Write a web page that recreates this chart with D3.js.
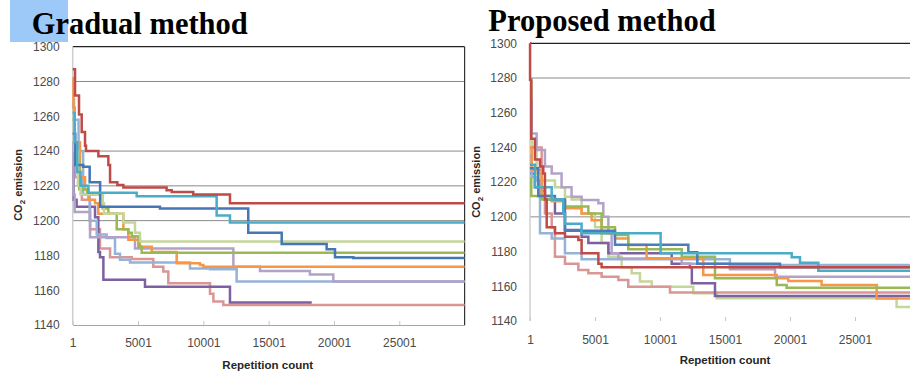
<!DOCTYPE html>
<html>
<head>
<meta charset="utf-8">
<script src="https://cdn.jsdelivr.net/npm/d3@7"></script>
<style>
  html, body { margin: 0; padding: 0; background: #fff; }
  svg { display: block; }
</style>
</head>
<body>
<svg id="chart" width="910" height="374"></svg>
<script>
// ── Data: [repetition, CO2 emission] best-so-far steps ─────────────────────

const yTicks = [1140, 1160, 1180, 1200, 1220, 1240, 1260, 1280, 1300];
const xTicks = [1, 5001, 10001, 15001, 20001, 25001];

// Gradual method
const gRed = [[1,1287],[180,1272],[485,1261],[690,1251],[945,1243],[1020,1240],[1965,1237],[2730,1232],[2860,1222],[3420,1220.5],[3880,1219],[7190,1217.5],[7580,1216.5],[9230,1215],[12040,1210],[30000,1210]];
const gTeal = [[1,1262],[150,1245],[350,1228],[600,1220],[1200,1216],[4900,1214],[11020,1203],[12040,1199],[30000,1199]];
const gBlue = [[1,1250],[200,1232],[800,1231],[1300,1222],[2100,1208],[6680,1207],[13440,1193],[16000,1186.5],[19440,1183.5],[20080,1179],[21480,1178.5],[30000,1178.5]];
const gLightGreen = [[1,1262],[150,1240],[400,1220],[600,1215],[2300,1210],[2400,1204],[3880,1199],[4770,1193],[5150,1188],[30000,1188]];
const gGreen = [[1,1258],[150,1235],[500,1218],[1100,1215],[2300,1207],[2730,1204],[3370,1195],[4260,1193],[4520,1191],[5030,1185],[5280,1181.5],[30000,1181.5]];
const gOrange = [[1,1282],[60,1265],[150,1245],[560,1225],[945,1218],[1200,1212],[1710,1210],[1960,1204],[3880,1195],[4260,1189],[5150,1185],[6050,1182],[7960,1175.5],[9745,1174.5],[10000,1173.5],[30000,1173.5]];
const gLightPurple = [[1,1245],[60,1215],[150,1205],[1330,1190.5],[4770,1184],[12300,1173.5],[14340,1171],[18160,1169],[19950,1165],[30000,1165]];
const gLightBlue = [[1,1270],[100,1258],[450,1240],[800,1215],[1300,1200],[1840,1192],[2600,1190],[3240,1181],[3620,1177.5],[4390,1176],[8980,1172.5],[10510,1172],[12550,1165],[30000,1165]];
const gPink = [[1,1235],[200,1225],[700,1212],[1330,1195],[2090,1184],[2860,1179],[4520,1178],[6170,1173.5],[6940,1170.7],[7320,1164],[10510,1158],[10770,1153.5],[11530,1151.5],[30000,1151.5]];
const gPurple = [[1,1232],[80,1212],[300,1208],[1710,1202],[1965,1182],[2090,1179],[2350,1166],[5535,1162],[12040,1153],[18300,1153]];

// Proposed method
const pRed = [[1,1300],[5,1279],[100,1245],[380,1233],[770,1229],[1020,1225],[1150,1210],[1285,1194],[1920,1190.5],[2690,1188.6],[3720,1186.7],[3970,1179],[5260,1173],[5510,1171],[30000,1170]];
const pTeal = [[1,1230],[380,1217],[1670,1210],[2560,1202],[2690,1196],[3970,1190.5],[10050,1179],[20130,1176.7],[20770,1173.6],[22180,1169],[30000,1169]];
const pBlue = [[1,1228],[640,1212],[1920,1210],[2690,1192],[6540,1184],[12180,1179.6],[12870,1173],[19230,1171],[30000,1171]];
const pGreen = [[1,1222],[100,1212],[900,1210],[2690,1206],[4490,1202],[5510,1194],[6540,1189.6],[7560,1181.3],[11670,1177],[14230,1164.6],[18980,1160.8],[19740,1159.2],[30000,1159.2]];
const pOrange = [[1,1240],[130,1227],[900,1212],[1670,1209],[2690,1205],[3970,1202],[4740,1198],[5510,1190.5],[6540,1187.6],[7560,1183.8],[8970,1176.2],[13330,1166.5],[18980,1164.6],[19870,1163],[22430,1160.8],[26670,1153],[30000,1153]];
const pLightPurple = [[1,1267],[130,1248],[510,1238.5],[1150,1229],[1670,1225],[2430,1217],[3200,1211.6],[3970,1209.7],[5260,1207.8],[5640,1200],[6030,1190.5],[6280,1179],[6800,1176],[11670,1173],[15380,1169.8],[18850,1165.5],[30000,1165.5]];
const pPurple = [[1,1225],[380,1217],[1150,1210],[1920,1202],[2690,1192.4],[3970,1188.6],[4490,1185],[6030,1179],[10900,1173],[12300,1171],[12450,1161.8],[14230,1154.4],[30000,1154.4]];
const pPink = [[1,1240],[900,1215],[1150,1202],[1670,1194],[1920,1177],[2690,1173],[3720,1169.4],[4490,1167.5],[5510,1165.5],[6800,1163.6],[7560,1159.8],[10770,1156.4],[30000,1155.5]];
const pLightBlue = [[1,1235],[130,1223],[510,1221],[770,1190.5],[1670,1187.6],[2690,1179],[3970,1175.6],[15380,1172.3],[30000,1172.3]];
const pLightGreen = [[1,1278],[130,1240],[510,1225],[900,1221],[1920,1217],[2690,1211.6],[3200,1210],[3970,1202],[5000,1194],[5510,1185],[6030,1177],[7050,1171],[7820,1167.5],[8460,1162.7],[9360,1159.8],[12560,1156],[14360,1153.1],[28200,1148],[30000,1148]];

const gradualSeries = [gPink, gPurple, gLightBlue, gLightPurple, gOrange, gGreen, gLightGreen, gBlue, gTeal, gRed];
const proposedSeries = [pLightGreen, pPink, pPurple, pLightBlue, pLightPurple, pOrange, pGreen, pBlue, pTeal, pRed];

const gradualGrid = [1280, 1240, 1220, 1200];
const proposedGrid = [1280, 1200];

// colours, same order as the series lists
const gradualColors = ["#D99694", "#7D60A0", "#95B3D7", "#B3A2C7", "#F79646", "#98B954", "#C3D69B", "#4576B5", "#4BACC6", "#BE4B48"];
const proposedColors = ["#C3D69B", "#D99694", "#7D60A0", "#95B3D7", "#B3A2C7", "#F79646", "#98B954", "#4A7EBB", "#4BACC6", "#BE4B48"];

// ── Drawing ────────────────────────────────────────────────────────────────

const svg = d3.select("#chart");
const TICK_FONT = "Liberation Sans, Arial, sans-serif";

function drawPanel(opt) {
  const x = d3.scaleLinear().domain([1, 30001]).range([opt.left, opt.right]);
  const y = d3.scaleLinear().domain([1140, 1300]).range([opt.bottom, opt.top]);
  const g = svg.append("g");

  // grid
  g.append("g").selectAll("line").data(opt.grid).enter().append("line")
    .attr("x1", opt.left).attr("x2", opt.right)
    .attr("y1", d => y(d)).attr("y2", d => y(d))
    .attr("stroke", "#8a8a8a").attr("stroke-width", 1);

  // plot frame: top dark, left light
  g.append("line").attr("x1", opt.left).attr("x2", opt.right)
    .attr("y1", y(1300)).attr("y2", y(1300)).attr("stroke", "#222").attr("stroke-width", 1.2);
  if (opt.rightBorder) {
    g.append("line").attr("x1", opt.right).attr("x2", opt.right)
      .attr("y1", y(1300)).attr("y2", y(1140)).attr("stroke", "#333").attr("stroke-width", 1.2);
  }
  g.append("line").attr("x1", opt.left).attr("x2", opt.left)
    .attr("y1", y(1300)).attr("y2", y(1140)).attr("stroke", "#cfcfcf").attr("stroke-width", 1.5);

  // x axis
  const xAxis = g.append("g")
    .attr("transform", `translate(0,${y(1140)})`)
    .call(d3.axisBottom(x).tickValues(xTicks).tickFormat(d3.format("d")).tickSizeInner(-4).tickSizeOuter(0));
  xAxis.select(".domain").attr("stroke", opt.bottomLine ? "#a6a6a6" : "none");
  xAxis.selectAll(".tick line").attr("stroke", "#c8c8c8");
  xAxis.selectAll("text").attr("y", opt.xLabelY).attr("dy", "0.71em")
    .attr("fill", "#4a4a4a").style("font-family", TICK_FONT).style("font-size", "12px");

  // y axis labels
  const yAxis = g.append("g")
    .attr("transform", `translate(${opt.left},0)`)
    .call(d3.axisLeft(y).tickValues(yTicks).tickFormat(d3.format("d")).tickSize(0).tickPadding(13));
  yAxis.select(".domain").remove();
  yAxis.selectAll("text").attr("fill", "#4a4a4a")
    .style("font-family", TICK_FONT).style("font-size", "12px");

  // series
  const line = d3.line().x(d => x(d[0])).y(d => y(d[1])).curve(d3.curveStepAfter);
  g.append("g").selectAll("path").data(opt.series).enter().append("path")
    .attr("d", line)
    .attr("fill", "none")
    .attr("stroke", (d, i) => opt.colors[i])
    .attr("stroke-width", 2.5)
    .attr("stroke-linejoin", "miter");

  // axis titles
  const yt = g.append("text")
    .attr("transform", `translate(${opt.yTitleX},${opt.yTitleY}) rotate(-90)`)
    .attr("text-anchor", "middle")
    .attr("fill", "#262626")
    .style("font-family", TICK_FONT).style("font-size", "11px").style("font-weight", "bold");
  yt.append("tspan").text("CO");
  yt.append("tspan").text("2").attr("dy", 3).style("font-size", "8px");
  yt.append("tspan").text(" emission").attr("dy", -3);

  g.append("text")
    .attr("x", opt.xTitleX).attr("y", opt.xTitleY)
    .attr("text-anchor", "middle")
    .attr("fill", "#262626")
    .style("font-family", TICK_FONT).style("font-size", "11.5px").style("font-weight", "bold")
    .text("Repetition count");

  // heading
  g.append("text")
    .attr("x", opt.titleX).attr("y", opt.titleY)
    .attr("fill", "#000")
    .style("font-family", "Liberation Serif, Times New Roman, serif")
    .style("font-size", "30.5px").style("font-weight", "bold")
    .text(opt.title);
}

// light blue tab behind the first heading
svg.append("rect").attr("x", 10).attr("y", 0).attr("width", 58).attr("height", 42).attr("fill", "#9CC9F8");

drawPanel({
  left: 72.7, right: 464.6, top: 46.7, bottom: 325,
  grid: gradualGrid, series: gradualSeries, colors: gradualColors,
  rightBorder: true, bottomLine: true, xLabelY: 13,
  yTitleX: 22, yTitleY: 185, xTitleX: 267.7, xTitleY: 369,
  title: "Gradual method", titleX: 31.7, titleY: 33.5
});

drawPanel({
  left: 530, right: 920, top: 43.3, bottom: 321,
  grid: proposedGrid, series: proposedSeries, colors: proposedColors,
  rightBorder: false, bottomLine: false, xLabelY: 14,
  yTitleX: 479.5, yTitleY: 182, xTitleX: 725, xTitleY: 364,
  title: "Proposed method", titleX: 488.3, titleY: 30.7
});
</script>
</body>
</html>
